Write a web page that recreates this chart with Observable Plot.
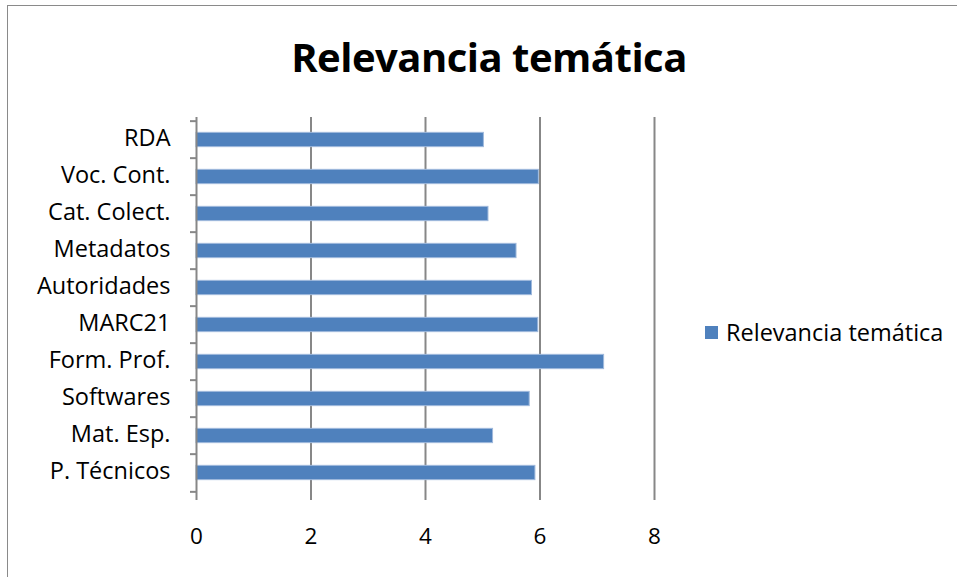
<!DOCTYPE html>
<html>
<head>
<meta charset="utf-8">
<script src="https://cdn.jsdelivr.net/npm/d3@7"></script>
<script src="https://cdn.jsdelivr.net/npm/@observablehq/plot@0.6"></script>
<style>
  html, body { margin: 0; padding: 0; background: #fff; }
  #wrap { position: relative; width: 957px; height: 577px; overflow: hidden; font-family: "Open Sans", sans-serif; }
  #frame { position: absolute; left: 7px; top: 5px; width: 2000px; height: 2000px; border-top: 1.5px solid #8a8a8a; border-left: 1.5px solid #8a8a8a; }
  #title { position: absolute; left: 0; width: 978px; top: 29px; text-align: center; font-weight: 700; font-size: 40px; color: #000; letter-spacing: -0.5px; }
  #legend { position: absolute; left: 705px; top: 316px; font-size: 23.5px; color: #000; display: flex; align-items: center; white-space: nowrap; }
  #legend .sw { width: 13px; height: 13px; background: #4F81BD; margin-right: 8px; }
  #chart { position: absolute; left: 0; top: 0; }
</style>
</head>
<body>
<div id="wrap">
  <div id="frame"></div>
  <div id="chart"></div>
  <div id="title">Relevancia temática</div>
  <div id="legend"><div class="sw"></div><span>Relevancia temática</span></div>
</div>
<script>
const categories = ["RDA", "Voc. Cont.", "Cat. Colect.", "Metadatos", "Autoridades", "MARC21", "Form. Prof.", "Softwares", "Mat. Esp.", "P. Técnicos"];
const values = [5.02, 5.98, 5.10, 5.59, 5.86, 5.97, 7.12, 5.82, 5.18, 5.92];
const xTicks = [0, 2, 4, 6, 8];
const seriesName = "Relevancia temática";

const data = categories.map((c, i) => ({category: c, value: values[i]}));

const W = 957, H = 577;
const mL = 196, mR = 303, mT = 117, mB = 83;
const band = (H - mT - mB) / categories.length;
const axisColor = "#878787";

const plot = Plot.plot({
  width: W,
  height: H,
  marginLeft: mL,
  marginRight: mR,
  marginTop: mT,
  marginBottom: mB,
  style: {fontFamily: "'Open Sans', sans-serif", fontSize: "22px", color: "#000", background: "transparent"},
  x: {domain: [0, 8], ticks: xTicks, label: null},
  y: {domain: categories, padding: 0, label: null},
  marks: [
    Plot.gridX(xTicks.filter(t => t > 0), {stroke: axisColor, strokeOpacity: 1, strokeWidth: 2}),
    Plot.barX(data, {x: "value", y: "category", fill: "#4F81BD", stroke: "#9fb9dc", strokeWidth: 1, insetTop: band / 2 - 7.5, insetBottom: band / 2 - 7.5}),
    Plot.ruleX([0], {stroke: axisColor, strokeWidth: 2}),
    Plot.ruleY([0], {frameAnchor: "bottom", stroke: axisColor, strokeWidth: 2}),
    Plot.axisX(xTicks, {tickSize: 6, tickPadding: 28, stroke: axisColor, strokeWidth: 2, fontSize: 22.5, label: null}),
    Plot.axisY({tickSize: 0, tickPadding: 26, fontSize: 23.5, dy: -2, label: null}),
    Plot.axisY({tickSize: 6, text: null, dy: -band / 2, stroke: axisColor, strokeWidth: 2, label: null}),
    Plot.axisY(categories.slice(-1), {tickSize: 6, text: null, dy: band / 2, stroke: axisColor, strokeWidth: 2, label: null})
  ]
});
document.getElementById("chart").appendChild(plot);
</script>
</body>
</html>
